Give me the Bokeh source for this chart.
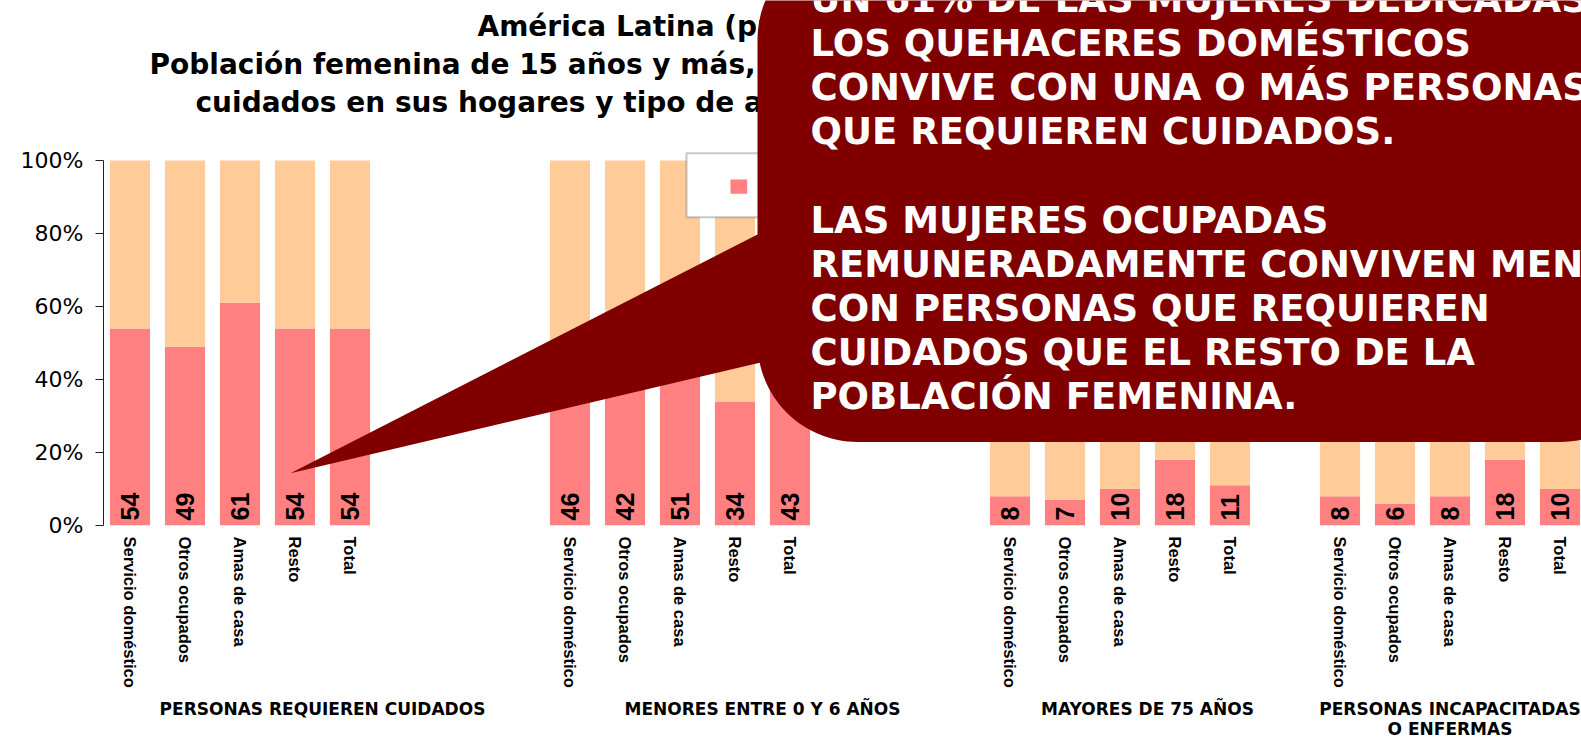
import math
from bokeh.plotting import figure
from bokeh.models import (ColumnDataSource, FixedTicker, Label, PolyAnnotation, BoxAnnotation,
                          Range1d, PrintfTickFormatter, LinearAxis)
from bokeh.core.properties import value
from bokeh.embed import file_html
from bokeh.resources import INLINE

# ---------------- data ----------------
categories = ["Servicio doméstico", "Otros ocupados", "Amas de casa", "Resto", "Total"]
groups = ["PERSONAS REQUIEREN CUIDADOS", "MENORES ENTRE 0 Y 6 AÑOS",
          "MAYORES DE 75 AÑOS", "PERSONAS INCAPACITADAS\nO ENFERMAS"]
con_requieren = [54, 49, 61, 54, 54]
con_menores = [46, 42, 51, 34, 43]
con_mayores = [8, 7, 10, 18, 11]
con_incapacitadas = [8, 6, 8, 18, 10]
series_names = ["Con personas que requieren cuidados", "Sin personas que requieren cuidados"]
y_ticks = [0, 20, 40, 60, 80, 100]
title_lines = ["América Latina (promedio simple de 14 países):",
               "Población femenina de 15 años y más, según presencia de personas que requieren",
               "cuidados en sus hogares y tipo de actividad, alrededor de 2005 (en porcentajes)"]
callout_lines = ["UN 61% DE LAS MUJERES DEDICADAS A",
                 "LOS QUEHACERES DOMÉSTICOS",
                 "CONVIVE CON UNA O MÁS PERSONAS",
                 "QUE REQUIEREN CUIDADOS.",
                 "",
                 "LAS MUJERES OCUPADAS",
                 "REMUNERADAMENTE CONVIVEN MENOS",
                 "CON PERSONAS QUE REQUIEREN",
                 "CUIDADOS QUE EL RESTO DE LA",
                 "POBLACIÓN FEMENINA."]

# ---------------- layout ----------------
W, H = 1581, 742
LEFT, FRAME_B = 103, 525          # frame spans x 103..W, y 0..525 (pixels)
PX_PER_PCT = 3.65                 # 100% sits at y = 160
SLOT = 55.0
X0 = -26.5 / SLOT
X1 = X0 + (W - LEFT) / SLOT
Y1 = FRAME_B / PX_PER_PCT
group_start = [0, 8, 16, 22]
group_label_pos = [3.5, 11.5, 18.5, 24.0]
PINK, PEACH, MAROON = "#FF8080", "#FFCC99", "#800000"
series_colors = [PINK, PEACH]


def xd(px):   # pixel -> data x
    return X0 + (px - LEFT) / SLOT


def yd(py):   # pixel -> data y
    return (FRAME_B - py) / PX_PER_PCT


values = [con_requieren, con_menores, con_mayores, con_incapacitadas]
xs, con, sin, names, lbls = [], [], [], [], []
for g, vals in enumerate(values):
    for i, v in enumerate(vals):
        xs.append(group_start[g] + i)
        con.append(v)
        sin.append(100 - v)
        names.append(categories[i])
        lbls.append(str(v))
src = ColumnDataSource(dict(x=xs, con=con, sin=sin, lbl=lbls))

p = figure(width=W, height=H, output_backend="svg", toolbar_location=None,
           x_range=Range1d(X0, X1), y_range=Range1d(0, Y1),
           min_border_left=LEFT, min_border_right=0, min_border_top=0,
           min_border_bottom=H - FRAME_B, outline_line_color=None)
p.xgrid.visible = False
p.ygrid.visible = False

rs = p.vbar_stack(["con", "sin"], x="x", width=0.73, color=series_colors,
                  line_color=None, source=src)

p.text(x="x", y=0, text="lbl", source=src, angle=math.pi / 2, text_align="left",
       text_baseline="middle", y_offset=-5, text_font=value("Liberation Sans"),
       text_font_style="bold", text_font_size="25px", text_color="black")

# y axis
ya = p.yaxis[0]
ya.ticker = FixedTicker(ticks=y_ticks)
ya.bounds = (0, 100)
ya.formatter = PrintfTickFormatter(format="%d%%")
ya.major_label_text_font = "DejaVu Sans"
ya.major_label_text_font_size = "22px"
ya.major_label_text_color = "black"
ya.axis_line_color = "#222222"
ya.major_tick_line_color = "#222222"
ya.major_tick_in = 0
ya.major_tick_out = 8
ya.minor_tick_line_color = None
ya.major_label_standoff = 12

# category axis
xa = p.xaxis[0]
xa.ticker = FixedTicker(ticks=xs)
xa.major_label_overrides = {x: n for x, n in zip(xs, names)}
xa.major_label_orientation = "vertical"
xa.major_label_text_font = "Liberation Sans"
xa.major_label_text_font_style = "bold"
xa.major_label_text_font_size = "16.5px"
xa.major_label_text_color = "black"
xa.axis_line_color = None
xa.major_tick_line_color = None
xa.minor_tick_line_color = None
xa.major_tick_out = 0
xa.major_tick_in = 0
xa.major_label_standoff = 11

# group axis
ga = LinearAxis(ticker=FixedTicker(ticks=group_label_pos),
                major_label_overrides={x: n for x, n in zip(group_label_pos, groups)})
ga.major_label_text_font = "DejaVu Sans"
ga.major_label_text_font_style = "bold"
ga.major_label_text_font_size = "17px"
ga.major_label_text_color = "black"
ga.major_label_text_line_height = 1.0
ga.axis_line_color = None
ga.major_tick_line_color = None
ga.minor_tick_line_color = None
ga.major_tick_out = 0
ga.major_tick_in = 0
ga.major_label_standoff = 8
p.add_layout(ga, "below")

# legend box (its right part lies under the callout)
p.add_layout(BoxAnnotation(left=xd(686), right=xd(1440), top=yd(152.7), bottom=yd(216.7),
                           fill_color="white", fill_alpha=1.0, line_color="#454545",
                           line_width=2, level="annotation"))
legend_marker_x = [730, 1090]
for k, (name, col) in enumerate(zip(series_names, series_colors)):
    mx = legend_marker_x[k]
    p.add_layout(BoxAnnotation(left=xd(mx), right=xd(mx + 16.7), top=yd(179), bottom=yd(193.3),
                               fill_color=col, fill_alpha=1.0, line_color=None,
                               level="annotation"))
    p.add_layout(Label(x=xd(mx + 30), y=yd(186), text=name, text_align="left",
                       text_baseline="middle", text_font="DejaVu Sans",
                       text_font_size="16px", text_color="black", level="annotation"))

# title
title_x = [477, 149, 195]
title_mid = [25.5, 64, 102]
for t, tx, ty in zip(title_lines, title_x, title_mid):
    p.add_layout(Label(x=xd(tx), y=yd(ty), text=t, text_align="left",
                       text_baseline="middle", text_font="DejaVu Sans",
                       text_font_style="bold", text_font_size="28px", text_color="black"))

# callout shape (rounded box with pointer), pixels
Lx, Tp, Rx, Bt, rad = 757, -61, 1660, 441.5, 100
tip = (290, 472.7)
pts = [tip, (Lx, 234.0), (Lx, Tp + rad)]
for a in range(0, 91, 5):
    t = math.radians(a)
    pts.append((Lx + rad - rad * math.cos(t), Tp + rad - rad * math.sin(t)))
pts += [(Rx + 100, Tp), (Rx, Bt - rad)]
for a in range(0, 91, 5):
    t = math.radians(a)
    pts.append((Rx - rad + rad * math.cos(t), Bt - rad + rad * math.sin(t)))
for a in range(90, 11, -3):
    t = math.radians(a)
    pts.append((Lx + rad - rad * math.cos(t), Bt - rad + rad * math.sin(t)))
p.add_layout(PolyAnnotation(xs=[xd(a) for a, b in pts], ys=[yd(b) for a, b in pts],
                            fill_color=MAROON, fill_alpha=1.0, line_color=None,
                            level="overlay"))

for k, line in enumerate(callout_lines):
    if line:
        p.add_layout(Label(x=xd(810), y=yd(-1.4 + 44.2 * k), text=line, text_align="left",
                           text_baseline="middle", text_font="DejaVu Sans",
                           text_font_style="bold", text_font_size="37px",
                           text_color="white", level="overlay"))

open("out.html", "w").write(file_html(p, INLINE))
